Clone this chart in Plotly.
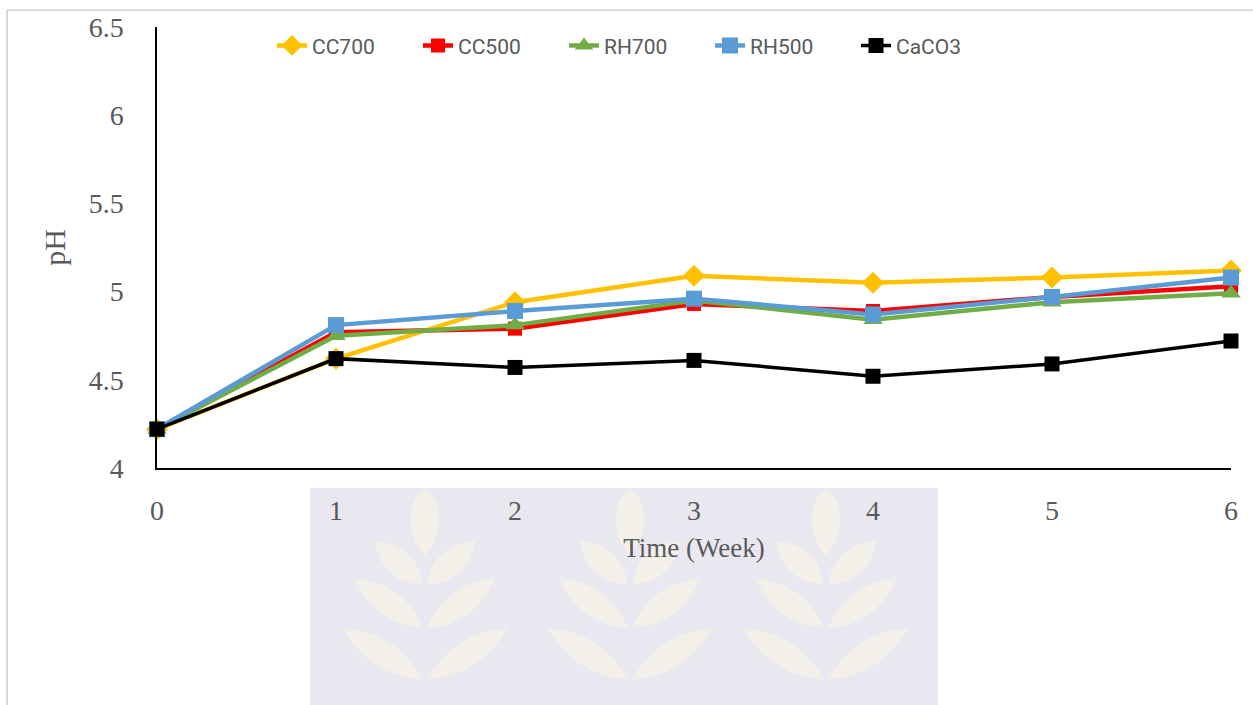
import math
import plotly.graph_objects as go

weeks = [0, 1, 2, 3, 4, 5, 6]
cc700 = [4.22, 4.62, 4.94, 5.09, 5.05, 5.08, 5.12]
cc500 = [4.22, 4.77, 4.79, 4.93, 4.89, 4.97, 5.03]
rh700 = [4.22, 4.75, 4.81, 4.95, 4.84, 4.94, 4.99]
rh500 = [4.22, 4.81, 4.89, 4.96, 4.87, 4.97, 5.08]
caco3 = [4.22, 4.62, 4.57, 4.61, 4.52, 4.59, 4.72]

series = [
    ("CC700", cc700, "#FFC000", "diamond", 17, 4.5),
    ("CC500", cc500, "#FF0000", "square", 14, 4.5),
    ("RH700", rh700, "#70AD47", "triangle-up", 17, 4.5),
    ("RH500", rh500, "#5B9BD5", "square", 16, 4.5),
    ("CaCO3", caco3, "#000000", "square", 15, 3.5),
]

W, H = 1253, 705
L, R, T, B = 157, 1231, 22, 468

def px(x, y):
    return ((x - L) / (R - L), (B - y) / (B - T))

def path(points, closed=True):
    s = ""
    for cmd, pts in points:
        s += cmd + " ".join("%.5f,%.5f" % px(*p) for p in pts) + " "
    return s + ("Z" if closed else "")

fig = go.Figure()
for name, vals, color, sym, size, lw in series:
    fig.add_trace(go.Scatter(
        x=weeks, y=vals, name=name, mode="lines+markers",
        line=dict(color=color, width=lw),
        marker=dict(symbol=sym, size=size, color=color),
        cliponaxis=False,
    ))

shapes = []
# outer light border
shapes.append(dict(type="line", xref="paper", yref="paper",
                   x0=px(7, 5)[0], y0=px(7, 5)[1], x1=px(1260, 5)[0], y1=px(1260, 5)[1],
                   line=dict(color="#d9d9d9", width=2), layer="below"))
shapes.append(dict(type="line", xref="paper", yref="paper",
                   x0=px(7, 5)[0], y0=px(7, 5)[1], x1=px(7, 710)[0], y1=px(7, 710)[1],
                   line=dict(color="#d9d9d9", width=2), layer="below"))
# watermark
x0, y0 = px(310, 488)
x1, y1 = px(938, 710)
shapes.append(dict(type="rect", xref="paper", yref="paper", x0=x0, y0=y0, x1=x1, y1=y1,
                   fillcolor="#e9e8f1", line=dict(width=0), layer="below"))
leaf_col = "#f2f0e8"
for cx in (425, 630, 826):
    shapes.append(dict(type="path", xref="paper", yref="paper", layer="below",
                       fillcolor=leaf_col, line=dict(width=0),
                       path=path([("M", [(cx, 489)]), ("C", [(cx + 19, 500), (cx + 19, 538), (cx, 556)]),
                                  ("C", [(cx - 19, 538), (cx - 19, 500), (cx, 489)])])))
    shapes.append(dict(type="path", xref="paper", yref="paper", layer="below",
                       fillcolor=leaf_col, line=dict(width=0),
                       path=path([("M", [(cx - 11, 545)]), ("L", [(cx + 11, 545), (cx + 34, 705), (cx - 34, 705)])])))
    for dx, ty, by in ((50, 542, 592), (70, 580, 636), (82, 630, 688)):
        for s in (-1, 1):
            bx, byy = cx + s * 2, by - 6
            tx = cx + s * dx
            mx, my = (bx + tx) / 2, (byy + ty) / 2
            vx, vy = tx - bx, ty - byy
            ln = math.hypot(vx, vy)
            nx, ny = -vy / ln, vx / ln
            w = 26
            shapes.append(dict(type="path", xref="paper", yref="paper", layer="below",
                               fillcolor=leaf_col, line=dict(width=0),
                               path=path([("M", [(bx, byy)]),
                                          ("Q", [(mx + nx * w, my + ny * w), (tx, ty)]),
                                          ("Q", [(mx - nx * w, my - ny * w), (bx, byy)])])))

serif = "Liberation Serif, Times New Roman, serif"
fig.update_layout(
    width=W, height=H,
    margin=dict(l=L, r=W - R, t=T, b=H - B, pad=0),
    paper_bgcolor="white", plot_bgcolor="rgba(0,0,0,0)",
    shapes=shapes,
    showlegend=True,
    legend=dict(orientation="h", x=px(272, 0)[0], xanchor="left", y=px(0, 41)[1], yanchor="middle",
                font=dict(family="Roboto, sans-serif", size=21, color="#595959"),
                bgcolor="rgba(0,0,0,0)", entrywidth=101, entrywidthmode="pixels", itemwidth=30),
    xaxis=dict(range=[0, 6], tickvals=weeks, showgrid=False, zeroline=False,
               showline=True, linecolor="black", linewidth=2, ticks="",
               ticklabelstandoff=16,
               tickfont=dict(family=serif, size=28, color="#595959"),
               title=dict(text="Time (Week)", font=dict(family=serif, size=27, color="#595959"), standoff=14)),
    yaxis=dict(range=[4, 6.5], tickvals=[4, 4.5, 5, 5.5, 6, 6.5], ticktext=["4", "4.5", "5", "5.5", "6", "6.5"],
               showgrid=False, zeroline=False, showline=True, linecolor="black", linewidth=1.5, ticks="",
               ticklabelstandoff=26,
               tickfont=dict(family=serif, size=28, color="#595959"),
               title=dict(text="pH", font=dict(family=serif, size=30, color="#595959"), standoff=14)),
)

fig.write_html("out.html")
